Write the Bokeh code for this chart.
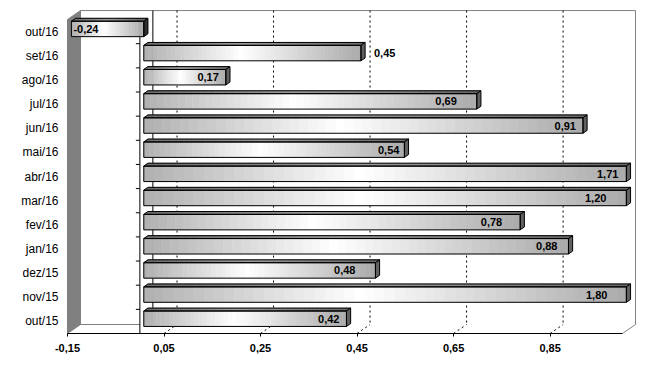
from bokeh.plotting import figure
from bokeh.models import FixedTicker, CustomJSTickFormatter, Range1d, ColumnDataSource
from bokeh.embed import file_html
from bokeh.resources import INLINE
from bokeh.core.properties import value

# ---------------- data ----------------
months = ["out/15", "nov/15", "dez/15", "jan/16", "fev/16", "mar/16", "abr/16",
          "mai/16", "jun/16", "jul/16", "ago/16", "set/16", "out/16"]
values = [0.42, 1.80, 0.48, 0.88, 0.78, 1.20, 1.71, 0.54, 0.91, 0.69, 0.17, 0.45, -0.24]
x_ticks = [-0.15, 0.05, 0.25, 0.45, 0.65, 0.85]
X_MIN, X_MAX = -0.15, 1.0

# ---------------- style ----------------
label_dx = [-7, -19, -20, -11, -18, -20, -8, -5, -7, -20, -7, 13, 2]   # px
label_align = ["right"] * 11 + ["left", "left"]

PX_X = 482.6      # px per x unit
PX_Y = 24.15      # px per category
DX = 13 / PX_X    # depth vector (data units)
DY = 9 / PX_Y
F = 0.30          # bar front position in depth
D = 0.32          # bar depth
HALF = 0.32       # half bar height (category units)
N = 48            # gradient slices
FONT = "Liberation Sans"
NCAT = len(months)
YB, YT = -0.5, NCAT - 0.5

p = figure(width=650, height=358, output_backend="svg", toolbar_location=None,
           x_range=Range1d(X_MIN - 3 / PX_X, X_MIN + (645 - 67) / PX_X),
           y_range=Range1d(YB - 1 / PX_Y, YB + (333 - 8) / PX_Y),
           min_border_left=64, min_border_right=5, min_border_top=8, min_border_bottom=24)
p.outline_line_color = None
p.grid.visible = False
p.background_fill_color = "white"
p.border_fill_color = "white"

# axes
p.xaxis.ticker = FixedTicker(ticks=x_ticks)
p.xaxis.formatter = CustomJSTickFormatter(code="return tick.toFixed(2).replace('.', ',');")
p.xaxis.axis_line_color = None
p.xaxis.major_tick_in = 1
p.xaxis.major_tick_out = 2
p.xaxis.major_tick_line_color = "black"
p.xaxis.minor_tick_line_color = None
p.xaxis.major_label_text_font = FONT
p.xaxis.major_label_text_font_style = "bold"
p.xaxis.major_label_text_font_size = "11px"
p.xaxis.major_label_text_color = "black"
p.xaxis.major_label_standoff = 7

p.yaxis.ticker = FixedTicker(ticks=list(range(NCAT)))
p.yaxis.formatter = CustomJSTickFormatter(args=dict(labels=months),
                                          code="return labels[Math.round(tick)] || '';")
p.yaxis.axis_line_color = None
p.yaxis.major_tick_line_color = None
p.yaxis.minor_tick_line_color = None
p.yaxis.major_tick_in = 0
p.yaxis.major_tick_out = 0
p.yaxis.major_label_text_font = FONT
p.yaxis.major_label_text_font_size = "12px"
p.yaxis.major_label_text_color = "black"
p.yaxis.major_label_standoff = 6

# ---------------- 3D box ----------------
p.patch([X_MIN, X_MIN, X_MIN + DX, X_MIN + DX], [YB, YT, YT + DY, YB + DY],
        fill_color="#808080", line_color="#808080", line_width=1)
p.line([X_MIN + DX, X_MAX + DX, X_MAX + DX, X_MAX], [YT + DY, YT + DY, YB + DY, YB],
       line_color="#808080", line_width=1)
p.line([X_MIN + DX, 0], [YB + DY, YB + DY], line_color="#808080", line_width=1)

gx0, gy0, gx1, gy1 = [], [], [], []
for t in x_ticks[1:]:
    gx0 += [t + DX, t]
    gy0 += [YT + DY, YB]
    gx1 += [t + DX, t + DX]
    gy1 += [YB + DY, YB + DY]
p.segment(gx0, gy0, gx1, gy1, line_color="black", line_width=1, line_dash="2 3")

# zero lines
p.segment([DX, 0], [YT + DY, YB], [DX, 0], [YB + DY, YT], line_color="black", line_width=1)
# category ticks at zero
bnds = [YB + k for k in range(NCAT + 1)]
p.segment([-4 / PX_X] * len(bnds), bnds, [0] * len(bnds), bnds, line_color="black", line_width=1)
# front axis line
p.segment([X_MIN], [YB], [X_MAX], [YB], line_color="black", line_width=1)


# ---------------- bars ----------------
def front_level(t):
    if t < 0.45:
        return 176 + (255 - 176) * t / 0.45
    return 255 - (255 - 170) * (t - 0.45) / 0.55


def hexg(l):
    l = int(max(0, min(255, round(l))))
    return "#%02x%02x%02x" % (l, l, l)


fl, fr, fb, ft, fc = [], [], [], [], []
txs, tys, tcs = [], [], []
ol, orr, ob, ot = [], [], [], []
oxs, oys = [], []
sxs, sys_, scs = [], [], []
lx, ly, ltxt, ldx, lal = [], [], [], [], []

for i in reversed(range(NCAT)):
    v = values[i]
    x0 = max(min(v, 0), X_MIN)
    x1 = min(max(v, 0), X_MAX)
    left = x0 + F * DX
    right = x1 + F * DX
    bot = i - HALF + F * DY
    top = i + HALF + F * DY
    w = (right - left) / N
    for k in range(N):
        a = left + k * w
        b = a + w
        lev = front_level((k + 0.5) / N)
        fl.append(a); fr.append(b); fb.append(bot); ft.append(top); fc.append(hexg(lev))
        txs.append([a, b, b + D * DX, a + D * DX])
        tys.append([top, top, top + D * DY, top + D * DY])
        tcs.append(hexg(lev * 0.6))
    ol.append(left); orr.append(right); ob.append(bot); ot.append(top)
    oxs.append([left, right, right + D * DX, left + D * DX])
    oys.append([top, top, top + D * DY, top + D * DY])
    sxs.append([right, right, right + D * DX, right + D * DX])
    sys_.append([bot, top, top + D * DY, bot + D * DY])
    scs.append("#606060" if v >= 0 else "#303030")
    lx.append(right if v >= 0 else left)
    ly.append(i + F * DY)
    ltxt.append(("%.2f" % v).replace(".", ","))
    ldx.append(label_dx[i])
    lal.append(label_align[i])

p.quad(left=fl, right=fr, bottom=fb, top=ft, fill_color=fc, line_color=fc, line_width=0.6)
p.patches(txs, tys, fill_color=tcs, line_color=tcs, line_width=0.6)
p.patches(oxs, oys, fill_color=None, line_color="black", line_width=1)
p.patches(sxs, sys_, fill_color=scs, line_color="black", line_width=1)
p.quad(left=ol, right=orr, bottom=ob, top=ot, fill_color=None, line_color="black", line_width=1)

src = ColumnDataSource(dict(x=lx, y=ly, t=ltxt, dx=ldx, al=lal))
p.text(x="x", y="y", text="t", x_offset="dx", text_align="al", text_baseline="middle",
       source=src, text_font=value(FONT), text_font_style="bold", text_font_size="11px",
       text_color="black")

open("out.html", "w").write(file_html(p, INLINE))
